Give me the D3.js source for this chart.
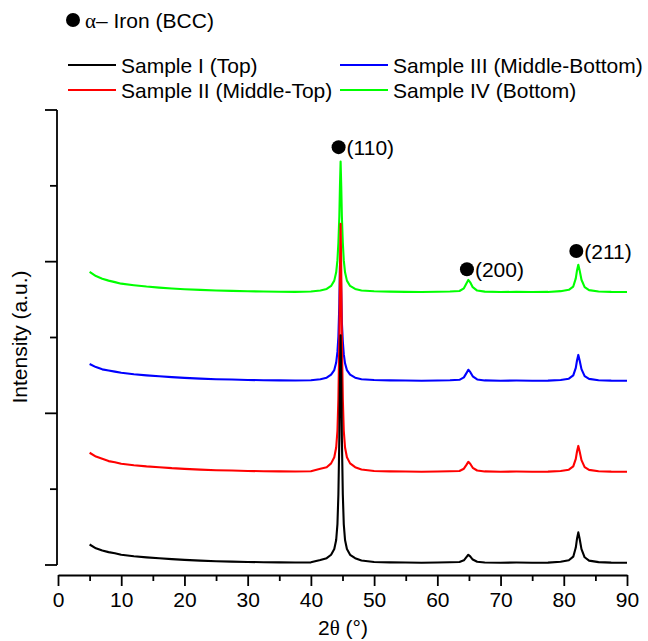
<!DOCTYPE html>
<html><head><meta charset="utf-8">
<script src="https://cdn.jsdelivr.net/npm/d3@7/dist/d3.min.js"></script>
<style>body{margin:0;background:#fff}svg{display:block}</style>
</head><body><svg id="c" width="648" height="641"></svg>
<script>
// ---- data ----
const twoTheta = [5,6,7,8,9,10,12,14,16,18,20,22.5,25,27.5,30,32.5,35,37.5,40,
  41.5,42.5,43.2,43.7,44.0,44.2,44.35,44.5,44.6,44.7,44.8,44.9,45.05,45.2,45.4,45.7,46.2,47,48,
  50,52.5,55,57.5,60,62,63.5,64.2,64.6,64.9,65.2,65.6,66.3,67.5,70,72.5,75,77.5,
  79.5,80.8,81.5,81.9,82.1,82.3,82.5,82.8,83.3,84,85.5,87.5,90];

const sampleI = [0.27,0.22,0.19,0.17,0.155,0.135,0.115,0.10,0.088,0.077,0.067,0.058,0.05,0.045,0.04,0.037,0.034,0.032,0.035,
  0.066,0.09,0.135,0.21,0.33,0.54,0.93,1.68,2.49,3.03,2.49,1.68,0.93,0.54,0.33,0.21,0.135,0.09,0.06,
  0.04,0.035,0.032,0.03,0.033,0.036,0.04,0.062,0.104,0.135,0.114,0.072,0.043,0.033,0.03,0.032,0.03,0.031,
  0.042,0.062,0.11,0.23,0.35,0.43,0.35,0.21,0.102,0.058,0.038,0.031,0.03];

const sampleII = [1.48,1.43,1.40,1.37,1.355,1.335,1.315,1.30,1.29,1.277,1.268,1.258,1.25,1.246,1.24,1.237,1.235,1.232,1.236,
  1.27,1.29,1.34,1.42,1.55,1.77,2.19,2.98,3.9,4.5,3.9,2.98,2.19,1.77,1.55,1.42,1.34,1.29,1.26,
  1.24,1.235,1.232,1.23,1.233,1.236,1.24,1.27,1.32,1.36,1.335,1.282,1.246,1.234,1.23,1.232,1.23,1.231,
  1.24,1.257,1.30,1.40,1.50,1.57,1.50,1.383,1.291,1.254,1.237,1.231,1.23];

const sampleIII = [2.65,2.61,2.58,2.565,2.55,2.535,2.515,2.50,2.488,2.477,2.467,2.458,2.45,2.446,2.44,2.437,2.435,2.433,2.437,
  2.45,2.47,2.51,2.57,2.67,2.81,3.01,3.45,3.95,3.98,3.6,3.2,2.95,2.78,2.66,2.57,2.51,2.47,2.45,
  2.44,2.435,2.432,2.43,2.433,2.436,2.442,2.474,2.53,2.575,2.546,2.488,2.447,2.434,2.43,2.432,2.43,2.431,
  2.44,2.457,2.50,2.60,2.70,2.77,2.70,2.583,2.491,2.454,2.437,2.431,2.43];

const sampleIV = [3.865,3.81,3.775,3.75,3.73,3.71,3.69,3.672,3.658,3.647,3.637,3.628,3.62,3.615,3.61,3.607,3.604,3.602,3.606,
  3.62,3.64,3.68,3.75,3.86,4.02,4.25,4.6,5.0,5.32,5.0,4.6,4.25,4.02,3.86,3.75,3.68,3.64,3.62,
  3.61,3.605,3.602,3.6,3.603,3.606,3.613,3.648,3.712,3.76,3.728,3.664,3.619,3.605,3.6,3.602,3.6,3.601,
  3.611,3.629,3.672,3.78,3.888,3.96,3.888,3.762,3.665,3.625,3.607,3.601,3.6];

const seriesNames = ["Sample I (Top)","Sample II (Middle-Top)","Sample III (Middle-Bottom)","Sample IV (Bottom)"];
const seriesColors = ["#000000","#ff0000","#0000ff","#00ff00"];
const seriesValues = [sampleI, sampleII, sampleIII, sampleIV];
const drawOrder = [3,2,1,0];

const xTicks = [0,10,20,30,40,50,60,70,80,90];
const xMinorTicks = [5,15,25,35,45,55,65,75,85];
const peakLabels = ["(110)","(200)","(211)"];
const peakTheta = [44.7,65.0,82.3];
const peakLabelY = [5.51,3.90,4.14];

// ---- layout ----
const svg = d3.select("#c");
const x = d3.scaleLinear().domain([0,90]).range([58,627]);
const y = d3.scaleLinear().domain([0,6]).range([565,110]);
const FONT = "'Liberation Sans', Arial, sans-serif";
const FS = 21;

// lines
const line = d3.line().x(d=>x(d[0])).y(d=>y(d[1]));
drawOrder.forEach(i=>{
  const pts = twoTheta.map((t,k)=>[t, seriesValues[i][k]]);
  svg.append("path").datum(pts).attr("d",line)
    .attr("fill","none").attr("stroke",seriesColors[i])
    .attr("stroke-width",2.1).attr("stroke-linejoin","round");
});

// y axis (no labels)
const yAxisG = svg.append("g").attr("transform","translate(57,0)");
yAxisG.append("line").attr("x1",0).attr("x2",0).attr("y1",y(6)).attr("y2",y(0))
  .attr("stroke","#000").attr("stroke-width",1.8);
d3.range(0,7).forEach(v=>{
  const len = v%2===0 ? 12 : 7;
  yAxisG.append("line").attr("x1",-len).attr("x2",0).attr("y1",y(v)).attr("y2",y(v))
    .attr("stroke","#000").attr("stroke-width",1.8);
});

// x axis
const xAxisY = 575;
const xg = svg.append("g").attr("transform",`translate(0,${xAxisY})`);
xg.call(d3.axisBottom(x).tickValues(xTicks).tickSize(11).tickSizeOuter(0).tickFormat(d3.format("d")));
xg.select(".domain").attr("stroke","#000").attr("stroke-width",1.8);
xg.selectAll(".tick line").attr("stroke","#000").attr("stroke-width",1.8);
xg.selectAll(".tick text").attr("font-family",FONT).attr("font-size",FS).attr("fill","#000").attr("y",17).attr("dy","0.71em");
const xgm = svg.append("g").attr("transform",`translate(0,${xAxisY})`);
xgm.call(d3.axisBottom(x).tickValues(xMinorTicks).tickSize(6).tickSizeOuter(0).tickFormat(""));
xgm.select(".domain").remove();
xgm.selectAll(".tick line").attr("stroke","#000").attr("stroke-width",1.8);

// axis titles
svg.append("text").attr("transform","translate(27,337) rotate(-90)")
  .attr("text-anchor","middle").attr("font-family",FONT).attr("font-size",FS).text("Intensity (a.u.)");
const xt = svg.append("text").attr("x",343).attr("y",635).attr("text-anchor","middle")
  .attr("font-family",FONT).attr("font-size",FS);
xt.append("tspan").text("2");
xt.append("tspan").attr("font-family","'Liberation Serif', serif").text("θ");
xt.append("tspan").text(" (°)");

// peak labels
peakLabels.forEach((lab,i)=>{
  const cx = x(peakTheta[i]), cy = y(peakLabelY[i]);
  svg.append("circle").attr("cx",cx-2).attr("cy",cy).attr("r",7).attr("fill","#000");
  svg.append("text").attr("x",cx+6).attr("y",cy+7.5).attr("font-family",FONT).attr("font-size",FS).text(lab);
});

// phase legend
svg.append("circle").attr("cx",73).attr("cy",20).attr("r",7).attr("fill","#000");
const ph = svg.append("text").attr("x",85).attr("y",27.5).attr("font-family",FONT).attr("font-size",FS);
ph.append("tspan").attr("font-family","'Liberation Serif', serif").text("α");
ph.append("tspan").text("– Iron (BCC)");

// series legend
const legX = [68, 340], legY = [65, 90];
seriesNames.forEach((nm,i)=>{
  const col = Math.floor(i/2), row = i%2;
  const lx = legX[col], ly = legY[row];
  svg.append("line").attr("x1",lx).attr("x2",lx+48).attr("y1",ly).attr("y2",ly)
    .attr("stroke",seriesColors[i]).attr("stroke-width",1.8);
  svg.append("text").attr("x",lx+53).attr("y",ly+7.5).attr("font-family",FONT).attr("font-size",FS).text(nm);
});
</script></body></html>
